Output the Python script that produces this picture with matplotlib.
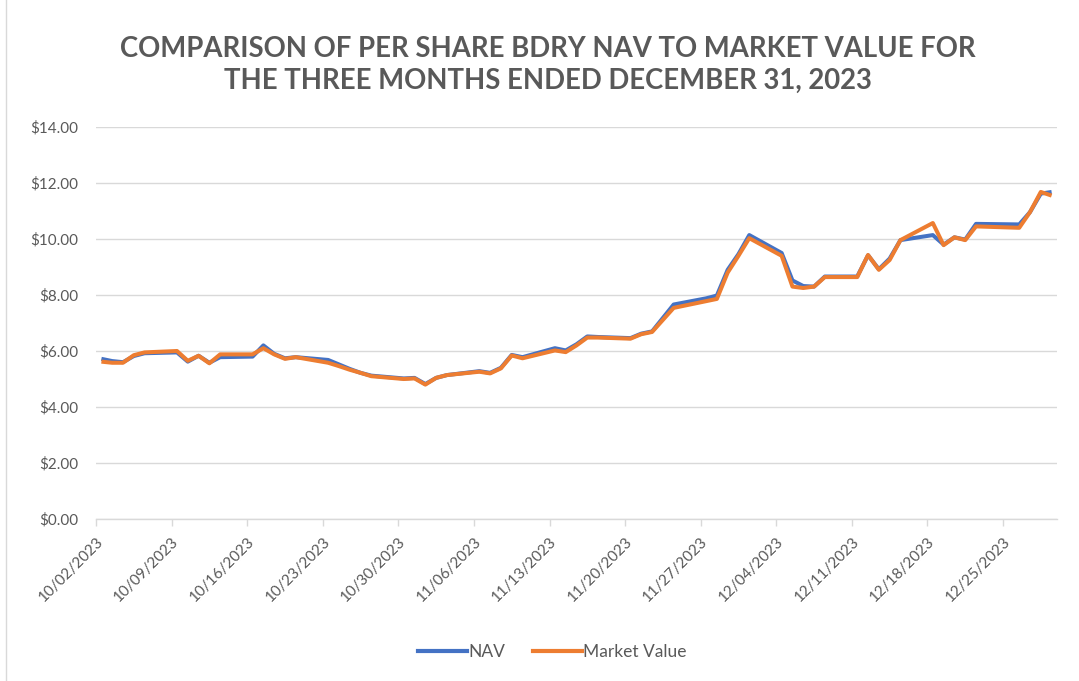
import datetime as dt

import matplotlib
matplotlib.use('Agg')
import matplotlib.dates as mdates
import matplotlib.pyplot as plt
import matplotlib.transforms as mtransforms
from matplotlib.lines import Line2D
from matplotlib.ticker import FuncFormatter

plt.rcParams['font.family'] = ['Lato', 'DejaVu Sans']

TITLE = ('COMPARISON OF PER SHARE BDRY NAV TO MARKET VALUE FOR\n'
         'THE THREE MONTHS ENDED DECEMBER 31, 2023')

# trading days, Oct 2 - Dec 29, 2023
dates = [
    '2023-10-02', '2023-10-03', '2023-10-04', '2023-10-05', '2023-10-06',
    '2023-10-09', '2023-10-10', '2023-10-11', '2023-10-12', '2023-10-13',
    '2023-10-16', '2023-10-17', '2023-10-18', '2023-10-19', '2023-10-20',
    '2023-10-23', '2023-10-24', '2023-10-25', '2023-10-26', '2023-10-27',
    '2023-10-30', '2023-10-31', '2023-11-01', '2023-11-02', '2023-11-03',
    '2023-11-06', '2023-11-07', '2023-11-08', '2023-11-09', '2023-11-10',
    '2023-11-13', '2023-11-14', '2023-11-15', '2023-11-16', '2023-11-17',
    '2023-11-20', '2023-11-21', '2023-11-22', '2023-11-24',
    '2023-11-27', '2023-11-28', '2023-11-29', '2023-11-30', '2023-12-01',
    '2023-12-04', '2023-12-05', '2023-12-06', '2023-12-07', '2023-12-08',
    '2023-12-11', '2023-12-12', '2023-12-13', '2023-12-14', '2023-12-15',
    '2023-12-18', '2023-12-19', '2023-12-20', '2023-12-21', '2023-12-22',
    '2023-12-26', '2023-12-27', '2023-12-28', '2023-12-29',
]

nav = [
    5.72, 5.64, 5.60, 5.82, 5.92,
    5.95, 5.62, 5.83, 5.58, 5.78,
    5.80, 6.20, 5.90, 5.74, 5.78,
    5.68, 5.52, 5.36, 5.22, 5.12,
    5.02, 5.04, 4.82, 5.04, 5.14,
    5.28, 5.22, 5.40, 5.86, 5.78,
    6.10, 6.02, 6.24, 6.52, 6.50,
    6.46, 6.62, 6.70, 7.66,
    7.88, 7.98, 8.90, 9.46, 10.14,
    9.50, 8.52, 8.32, 8.30, 8.66,
    8.66, 9.42, 8.92, 9.30, 9.96,
    10.14, 9.80, 10.06, 9.98, 10.54,
    10.52, 10.96, 11.62, 11.68,
]

market = [
    5.62, 5.58, 5.58, 5.85, 5.95,
    6.00, 5.65, 5.83, 5.56, 5.88,
    5.88, 6.10, 5.88, 5.72, 5.78,
    5.58, 5.46, 5.33, 5.22, 5.10,
    5.00, 5.02, 4.80, 5.04, 5.14,
    5.26, 5.20, 5.38, 5.84, 5.74,
    6.02, 5.96, 6.20, 6.48, 6.48,
    6.44, 6.60, 6.68, 7.54,
    7.78, 7.86, 8.80, 9.40, 10.03,
    9.40, 8.30, 8.25, 8.30, 8.64,
    8.64, 9.43, 8.90, 9.25, 9.96,
    10.57, 9.78, 10.06, 9.96, 10.45,
    10.40, 10.96, 11.68, 11.55,
]

y_ticks = [0, 2, 4, 6, 8, 10, 12, 14]

NAV_COLOR = '#4472C4'
MV_COLOR = '#ED7D31'
TEXT = '#595959'
GRID = '#D9D9D9'

# Excel date axis "between tick marks": each point sits mid-day
x = [dt.datetime.strptime(d, '%Y-%m-%d') + dt.timedelta(hours=12) for d in dates]
start = dt.datetime(2023, 10, 2)
end = dt.datetime(2023, 12, 30)

fig = plt.figure(figsize=(10.79, 6.81), dpi=100)
ax = fig.add_axes([96 / 1079, 1 - 519 / 681, 961 / 1079, 392 / 681])

ax.plot(x, nav, color=NAV_COLOR, linewidth=2.9, solid_joinstyle='round',
        solid_capstyle='butt', zorder=3)
ax.plot(x, market, color=MV_COLOR, linewidth=2.9, solid_joinstyle='round',
        solid_capstyle='butt', zorder=4)

ax.set_xlim(start, end)
ax.set_ylim(0, 14)
ax.set_yticks(y_ticks)
ax.yaxis.set_major_formatter(FuncFormatter(lambda v, p: f'${v:.2f}'))
ax.grid(True, axis='y', color=GRID, linewidth=1.0, zorder=0)

ticks = [start + dt.timedelta(days=7 * k) for k in range(13)]
ax.set_xticks(ticks)
ax.xaxis.set_major_formatter(mdates.DateFormatter('%m/%d/%Y'))
shift = mtransforms.ScaledTranslation(8 / 100, 0, fig.dpi_scale_trans)
for lab in ax.get_xticklabels():
    lab.set_rotation(45)
    lab.set_ha('right')
    lab.set_rotation_mode('anchor')
    lab.set_transform(lab.get_transform() + shift)

for s in ('top', 'right', 'left'):
    ax.spines[s].set_visible(False)
ax.spines['bottom'].set_color(GRID)
ax.spines['bottom'].set_linewidth(1.0)
ax.tick_params(axis='y', length=0, pad=13, labelsize=11, labelcolor=TEXT)
ax.tick_params(axis='x', length=5, width=1.0, color=GRID, pad=6,
               labelsize=11, labelcolor=TEXT)

fig.text(0.508, 0.905, TITLE, ha='center', va='center', fontsize=19.8,
         fontweight='bold', color=TEXT, linespacing=1.3)

handles = [Line2D([], [], color=NAV_COLOR, linewidth=3.0),
           Line2D([], [], color=MV_COLOR, linewidth=3.0)]
fig.legend(handles, ['NAV', 'Market Value'], loc='center',
           bbox_to_anchor=(0.512, 0.043), ncol=2, frameon=False,
           fontsize=12.5, labelcolor=TEXT, handlelength=2.8,
           handletextpad=0.1, columnspacing=1.6)

# chart border remnant on the left edge
fig.add_artist(Line2D([6 / 1079, 6 / 1079], [0, 1], color=GRID,
                      linewidth=1.0, transform=fig.transFigure))

fig.savefig('out.png', dpi=100)
